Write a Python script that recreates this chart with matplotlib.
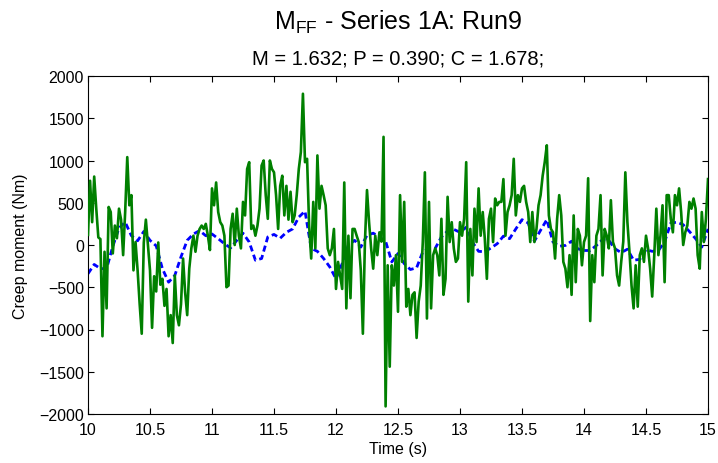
import numpy as np
import matplotlib
matplotlib.use("Agg")
import matplotlib.pyplot as plt

plt.rcParams['font.family'] = ['Liberation Sans', 'DejaVu Sans']
plt.rcParams['mathtext.fontset'] = 'custom'
plt.rcParams['mathtext.rm'] = 'Liberation Sans'
plt.rcParams['mathtext.it'] = 'Liberation Sans'

# Green (measured) creep moment, sampled every 1/60 s from 10 to 15 s
green = [
    120, 760, 270, 810, 430, 90, 70, -1080, -80, -750,
    450, 390, -100, 230, 80, 430, 300, -120, 400, 1040,
    470, 590, -300, 35, -300, -700, -1050, 30, 300, 0,
    -300, -980, -370, -550, 30, -470, -400, -720, -520, -1080,
    -830, -1160, -360,
    -830, -950, -700, -160, -560, -830, -280, -40, 110, -80,
    110, 190, 230, 190, 250, 110, -60, 670, 470, 740,
    390, 270, 230, 110, -500, -480, 190, 370, 0, 430,
    110, -40, 510, 350, 900, 980, 190, 230, 110, 230,
    430, 940, 1000,
    590, 310, 1000, 900, 860, 590, 190, 700, 820, 350,
    700, 300, 630, 270, 350, 590, 900, 1100, 1790, 980,
    1020, 230, -160, 510, -40, 1060, 430, 700, 590, 470,
    -40, -120, -40, 190, -520, -200, -360, -520, 740, -750,
    110, -630, 190,
    190, 110, 35, -300, -1050, 35, 650, 270, -40, -280,
    110, -120, 150, 40, 1280, -1910, -240, -1440, -240, -480,
    -120, -790, 590, -200, 510, -730, -520, -830, -590, -560,
    -1100, -670, -480, 35, 860, -870, 510, -750, -120, -40,
    -120, -360, 310,
    -590, -400, 570, 35, 270, -40, -200, -160, 270, 110,
    310, 980, -670, 190, -360, 430, 35, 670, 110, 390,
    75, -400, 310, 430, 35, 550, 470, 510, 510, 780,
    110, 390, 470, 590, 1020, 350, 590, 510, 670, 700,
    510, 390, 35, 390,
    35, 190, 470, 590, 820, 980, 1180, 350, 190, 150,
    -160, 310, 590, 350, -200, -280, -500, -120, -590, 350,
    -440, 190, 110, -240, 35, 110, 790, -900, -120, -440,
    110, 190, 590, -360, 190, 110, -40, 530, 35, -40,
    -360, -480, -200,
    40, 860, 270, -80, -480, -750, -240, -730, -120, -40,
    -200, 110, -40, -280, -610, -120, 430, -120, 110, 470,
    -440, 590, 590, 310, 150, 590, 470, 670, 390, 0,
    150, 230, 510, 430, 550, 430, -120, -280, 390, 35,
    310, 780,
]

# Blue (model) creep moment, sampled every 0.05 s from 10 to 15 s
blue = [
    -340, -230, -280, -280, -15, 200, 270, 110, 50, 160,
    55, -10, -280, -440, -360, -140, 55, 130, 170, 110,
    130, 75, 15, -35, 55, 140, 35, -180, -160, 95,
    125, 80, 150, 190, 330, 400, -40, -75, -160, -260,
    -400, -220, 0, 55, -25, 115, 140, 95, 45, -200,
    -100, -220, -290, -270, -80, -40, -40, 95, 165, 185,
    150, 210, 35, -75, -80, -35, 15, 105, 75, 190,
    300, 260, 45, 175, 300, 35, -15, -5, 45, -45,
    -65, -65, -5, 65, 55, -45, -90, -50, -180, -170,
    -55, -75, -65, 35, 260, 270, 240, 160, 75, -25,
    190,
]

x_ticks = [10, 10.5, 11, 11.5, 12, 12.5, 13, 13.5, 14, 14.5, 15]
x_tick_labels = ['10', '10.5', '11', '11.5', '12', '12.5', '13', '13.5', '14', '14.5', '15']
y_ticks = [-2000, -1500, -1000, -500, 0, 500, 1000, 1500, 2000]

t_green = np.linspace(10, 15, len(green))
t_blue = np.linspace(10, 15, len(blue))

fig = plt.figure(figsize=(7.18, 4.64), dpi=100)
ax = fig.add_axes([88/718, 1 - 415/464, 620/718, 338/464])

ax.plot(t_blue, blue, color='#0000FF', lw=2.0, linestyle=(0, (2.2, 1.3)), zorder=2)
ax.plot(t_green, green, color='#008000', lw=1.9, zorder=3)

ax.set_xlim(10, 15)
ax.set_ylim(-2000, 2000)
ax.set_xticks(x_ticks)
ax.set_xticklabels(x_tick_labels)
ax.set_yticks(y_ticks)
ax.tick_params(direction='in', top=True, right=True, length=4, width=0.8,
               labelsize=11.5)
ax.tick_params(axis='x', pad=6)
ax.tick_params(axis='y', pad=3)
for s in ax.spines.values():
    s.set_linewidth(0.8)

ax.set_xlabel('Time (s)', fontsize=11.5, labelpad=3)
ax.set_ylabel('Creep moment (Nm)', fontsize=11.5, labelpad=8)

fig.text(398/718, 1 - 22/464, r'M$_{\mathrm{FF}}$ - Series 1A: Run9',
         ha='center', va='center', fontsize=18)
fig.text(398/718, 1 - 59/464, 'M = 1.632; P = 0.390; C = 1.678;',
         ha='center', va='center', fontsize=14.5)

fig.savefig('out.png', dpi=100)
